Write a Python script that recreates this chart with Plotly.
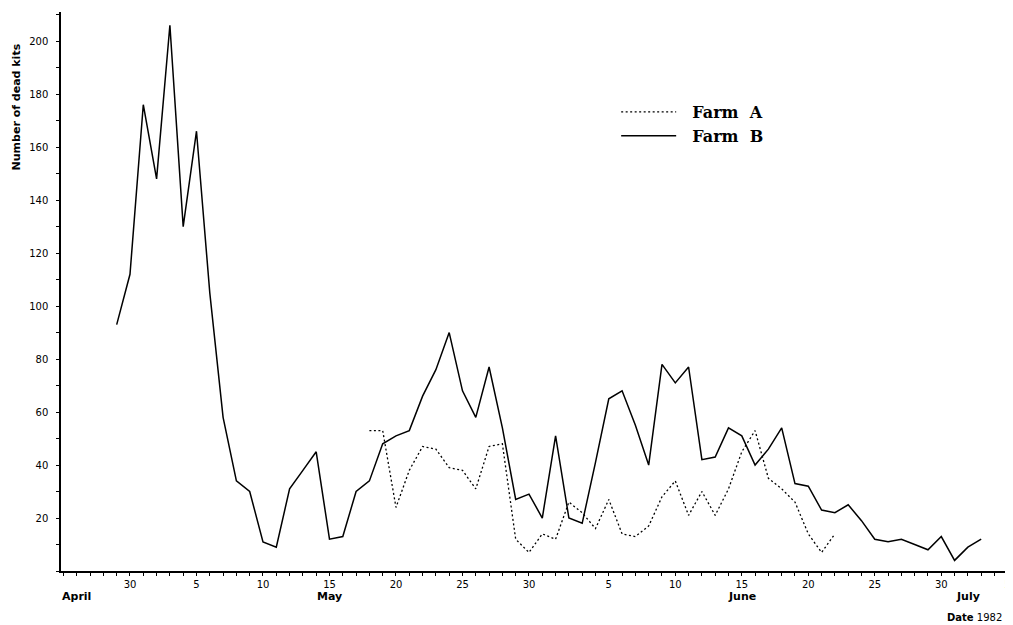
import plotly.graph_objects as go
import pandas as pd

# ---- data ----
farm_b_start = "1982-04-29"
farm_b_values = [93, 112, 176, 148, 206, 130, 166, 105, 58, 34, 30, 11, 9, 31, 38, 45,
                 12, 13, 30, 34, 48, 51, 53, 66, 76, 90, 68, 58, 77, 54, 27, 29, 20,
                 51, 20, 18, 41, 65, 68, 55, 40, 78, 71, 77, 42, 43, 54, 51, 40, 46,
                 54, 33, 32, 23, 22, 25, 19, 12, 11, 12, 10, 8, 13, 4, 9, 12]
farm_a_start = "1982-05-18"
farm_a_values = [53, 53, 24, 38, 47, 46, 39, 38, 31, 47, 48, 12, 7, 14, 12, 26, 22, 16,
                 27, 14, 13, 17, 28, 34, 21, 30, 21, 31, 45, 53, 35, 31, 26, 14, 7, 14]

farm_b_dates = pd.date_range(farm_b_start, periods=len(farm_b_values), freq="D")
farm_a_dates = pd.date_range(farm_a_start, periods=len(farm_a_values), freq="D")

tick_dates = ["1982-04-30", "1982-05-05", "1982-05-10", "1982-05-15", "1982-05-20",
              "1982-05-25", "1982-05-30", "1982-06-05", "1982-06-10", "1982-06-15",
              "1982-06-20", "1982-06-25", "1982-06-30", "1982-07-05"]
tick_labels = ["30", "5", "10", "15", "20", "25", "30", "5", "10", "15", "20", "25", "30", "5"]
month_labels = ["April", "May", "June", "July"]
month_dates = ["1982-04-26", "1982-05-15", "1982-06-15", "1982-07-02"]
y_ticks = [20, 40, 60, 80, 100, 120, 140, 160, 180, 200]

fig = go.Figure()
fig.add_trace(go.Scatter(x=farm_a_dates, y=farm_a_values, mode="lines",
                         name="\u00a0\u00a0Farm\u00a0\u00a0A",
                         line=dict(color="black", width=1.3, dash="2px,2.5px")))
fig.add_trace(go.Scatter(x=farm_b_dates, y=farm_b_values, mode="lines",
                         name="\u00a0\u00a0Farm\u00a0\u00a0B",
                         line=dict(color="black", width=1.5)))

sans = "DejaVu Sans"
for lab, d in zip(month_labels, month_dates):
    fig.add_annotation(x=d, y=0, xref="x", yref="paper", text="<b>" + lab + "</b>",
                       showarrow=False, yanchor="middle", yshift=-25,
                       font=dict(family=sans, size=11, color="black"))
fig.add_annotation(x=1.0, y=0, xref="paper", yref="paper", xanchor="right", yanchor="middle",
                   text="<b>Date</b> 1982", showarrow=False, yshift=-46, xshift=-6,
                   font=dict(family=sans, size=10, color="black"))
fig.add_annotation(x=-0.047, y=0.83, xref="paper", yref="paper", xanchor="center", yanchor="middle",
                   text="<b>Number of dead kits</b>",
                   textangle=-90, showarrow=False, font=dict(family=sans, size=11, color="black"))

# page body has an 8px margin, so the figure is drawn 8px in from the top-left
fig.update_layout(
    width=1005, height=617,
    margin=dict(l=53, r=3, t=4, b=54),
    paper_bgcolor="white", plot_bgcolor="white",
    showlegend=True,
    legend=dict(x=0.585, y=0.8515, xanchor="left", yanchor="top",
                font=dict(family="DejaVu Serif", size=16, color="black", weight="bold"),
                bgcolor="rgba(0,0,0,0)", itemwidth=55, tracegroupgap=0),
    xaxis=dict(type="date", range=["1982-04-24 19:30", "1982-07-05 04:00"],
               tickvals=tick_dates, ticktext=tick_labels,
               showgrid=False, zeroline=False, showline=True, linecolor="black", linewidth=1.5,
               ticks="outside", ticklen=3, tickcolor="black",
               tickfont=dict(family=sans, size=10, color="black"),
               minor=dict(dtick=86400000, tick0="1982-04-30", ticks="outside", ticklen=3,
                          tickcolor="black", showgrid=False)),
    yaxis=dict(range=[0, 211], tickvals=y_ticks,
               showgrid=False, zeroline=False, showline=True, linecolor="black", linewidth=1.5,
               ticks="outside", ticklen=3, tickcolor="black", ticklabelstandoff=6,
               tickfont=dict(family=sans, size=10, color="black"),
               minor=dict(dtick=10, ticks="outside", ticklen=3, tickcolor="black", showgrid=False)),
)

fig.write_html("out.html")
